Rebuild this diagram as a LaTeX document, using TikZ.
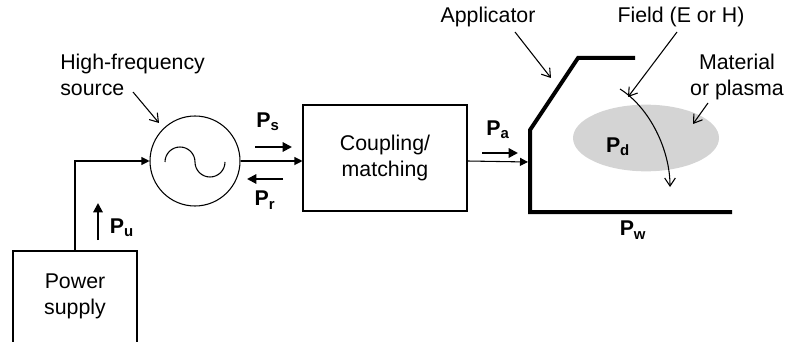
\documentclass[tikz,border=0pt]{standalone}
\usepackage{fontspec}
\setmainfont{Liberation Sans}
\usetikzlibrary{arrows.meta,shapes.geometric}
\definecolor{matgray}{RGB}{212,212,212}
\begin{document}
\begin{tikzpicture}[x=0.75pt,y=-0.75pt,
  lbl/.style={font=\fontsize{16}{19.5}\selectfont, inner sep=0pt, align=center},
  pl/.style={font=\fontsize{16}{19.5}\selectfont\bfseries, inner sep=0pt},
  thinln/.style={line width=0.8pt},
  boxst/.style={draw, thinln, inner sep=0pt},
  conn/.style={thinln, -{Triangle[length=6pt,width=6pt]}},
  boldarr/.style={line width=1.5pt, -{Triangle[length=7pt,width=7pt]}},
  ptr/.style={thinln, -{Straight Barb[length=6pt,width=8pt]}},
  wall/.style={line width=3pt, line join=miter}]
\clip (0,0) rectangle (795,342);
% power supply
\node[boxst, minimum width=93pt, minimum height=71.25pt] (psu) at (75,298.5) {};
\node[lbl] (psut) at (75,296) {Power\\supply};
% source
\node[boxst, circle, minimum size=67.5pt] (src) at (195,161) {};
\draw[thinln] ([shift={(-30,1)}]src.center) arc (180:0:11.25pt) arc (180:360:11.25pt);
\node[lbl, anchor=west, align=left] (hf) at (60,75) {High-frequency\\source};
\coordinate (hfa) at (133,92);
\coordinate (hfb) at (159,123);
\draw[ptr] (hfa) -- (hfb);
% coupling
\node[boxst, lbl, minimum width=123pt, minimum height=79.5pt] (cm) at (385,158) {Coupling/\\matching};
% applicator
\coordinate (a0) at (530,212);
\coordinate (a1) at (530,130);
\coordinate (a2) at (578,58);
\coordinate (a3) at (635,58);
\coordinate (a4) at (732,212);
\coordinate (apin) at (528,162);
\draw[wall] (a3) -- (a2) -- (a1) -- (a0) -- (a4);
% material
\node[ellipse, fill=matgray, inner sep=0pt, minimum width=109.5pt, minimum height=50pt] (mat) at (646,138) {};
% connectors
\draw[conn] (psu.north) |- (src.west);
\draw[conn] (src.east) -- (src.east -| cm.west);
\draw[conn] (src.east -| cm.east) -- (apin);
% power arrows
\coordinate (pu1) at (98,240); \coordinate (pu2) at (98,203);
\draw[boldarr] (pu1) -- (pu2);
\node[pl] (pu) at (122,228) {P\textsubscript{u}};
\coordinate (ps1) at (255,147); \coordinate (ps2) at (292,147);
\draw[boldarr] (ps1) -- (ps2);
\node[pl] (ps) at (268,122) {P\textsubscript{s}};
\coordinate (pr1) at (283,179); \coordinate (pr2) at (247,179);
\draw[boldarr] (pr1) -- (pr2);
\node[pl] (pr) at (265,200) {P\textsubscript{r}};
\coordinate (pa1) at (482,153); \coordinate (pa2) at (518,153);
\draw[boldarr] (pa1) -- (pa2);
\node[pl] (pa) at (498,130) {P\textsubscript{a}};
\node[pl] (pd) at (618,147) {P\textsubscript{d}};
\node[pl] (pw) at (633,230) {P\textsubscript{w}};
% labels
\node[lbl] (app) at (488,17) {Applicator};
\coordinate (apa) at (515,32); \coordinate (apb) at (551,78);
\draw[ptr] (apa) -- (apb);
\node[lbl] (fld) at (681,17) {Field (E or H)};
\coordinate (fla) at (677,32); \coordinate (flb) at (628,97);
\draw[ptr] (fla) -- (flb);
\coordinate (fc1) at (620,89); \coordinate (fc2) at (670,187);
\draw[ptr] (fc1) .. controls (650,108) and (670,150) .. (fc2);
\node[lbl] (mt) at (737,77) {Material\\or plasma};
\coordinate (mta) at (708,103); \coordinate (mtb) at (693,124);
\draw[ptr] (mta) -- (mtb);
\end{tikzpicture}
\end{document}
